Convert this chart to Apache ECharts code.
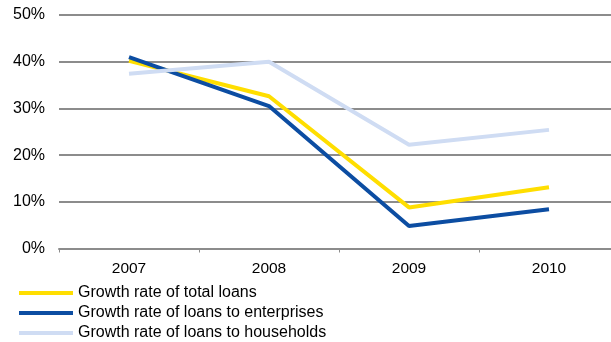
<!DOCTYPE html>
<html>
<head>
<meta charset="utf-8">
<script src="https://cdn.jsdelivr.net/npm/echarts@6/dist/echarts.min.js"></script>
<style>
  html, body { margin: 0; padding: 0; background: #fff; }
  #chart { width: 611px; height: 342px; }
</style>
</head>
<body>
<div id="chart"></div>
<script>
const years = ['2007', '2008', '2009', '2010'];
const totalLoans = [40.2, 32.6, 8.8, 13.1];
const enterpriseLoans = [41.0, 30.5, 4.8, 8.4];
const householdLoans = [37.4, 40.0, 22.2, 25.4];

const seriesNames = [
    'Growth rate of total loans',
    'Growth rate of loans to enterprises',
    'Growth rate of loans to households'
];
const seriesColors = ['#ffde00', '#0c4da2', '#cfdcf3'];

const chart = echarts.init(document.getElementById('chart'));

function lineSeries(name, data, color) {
    return {
        name: name,
        type: 'line',
        data: data,
        symbol: 'none',
        lineStyle: { color: color, width: 4 },
        itemStyle: { color: color }
    };
}

chart.setOption({
    animation: false,
    textStyle: { fontFamily: 'Liberation Sans, Arial, sans-serif' },
    // plot area runs past the right edge of the canvas, as in the original
    grid: { left: 59, width: 560, top: 15, bottom: 93.5, outerBoundsMode: 'none' },
    legend: {
        orient: 'vertical',
        left: 19,
        top: 285,
        padding: 0,
        height: 60,
        icon: 'rect',
        itemWidth: 54,
        itemHeight: 4,
        itemGap: 4,
        textStyle: { fontSize: 16, lineHeight: 16, color: '#000' },
        data: seriesNames
    },
    xAxis: {
        type: 'category',
        data: years,
        axisLine: { lineStyle: { color: '#8c8c8c', width: 2 } },
        axisTick: { show: true, length: 4, lineStyle: { color: '#8c8c8c' } },
        axisLabel: { fontSize: 15.5, color: '#000', margin: 12 }
    },
    yAxis: {
        type: 'value',
        min: 0,
        max: 50,
        interval: 10,
        axisLine: { show: false },
        axisTick: { show: false },
        axisLabel: { fontSize: 16, color: '#000', margin: 14, formatter: '{value}%' },
        splitLine: { lineStyle: { color: '#8c8c8c', width: 2 } }
    },
    series: [
        lineSeries(seriesNames[0], totalLoans, seriesColors[0]),
        lineSeries(seriesNames[1], enterpriseLoans, seriesColors[1]),
        lineSeries(seriesNames[2], householdLoans, seriesColors[2])
    ]
});
</script>
</body>
</html>
